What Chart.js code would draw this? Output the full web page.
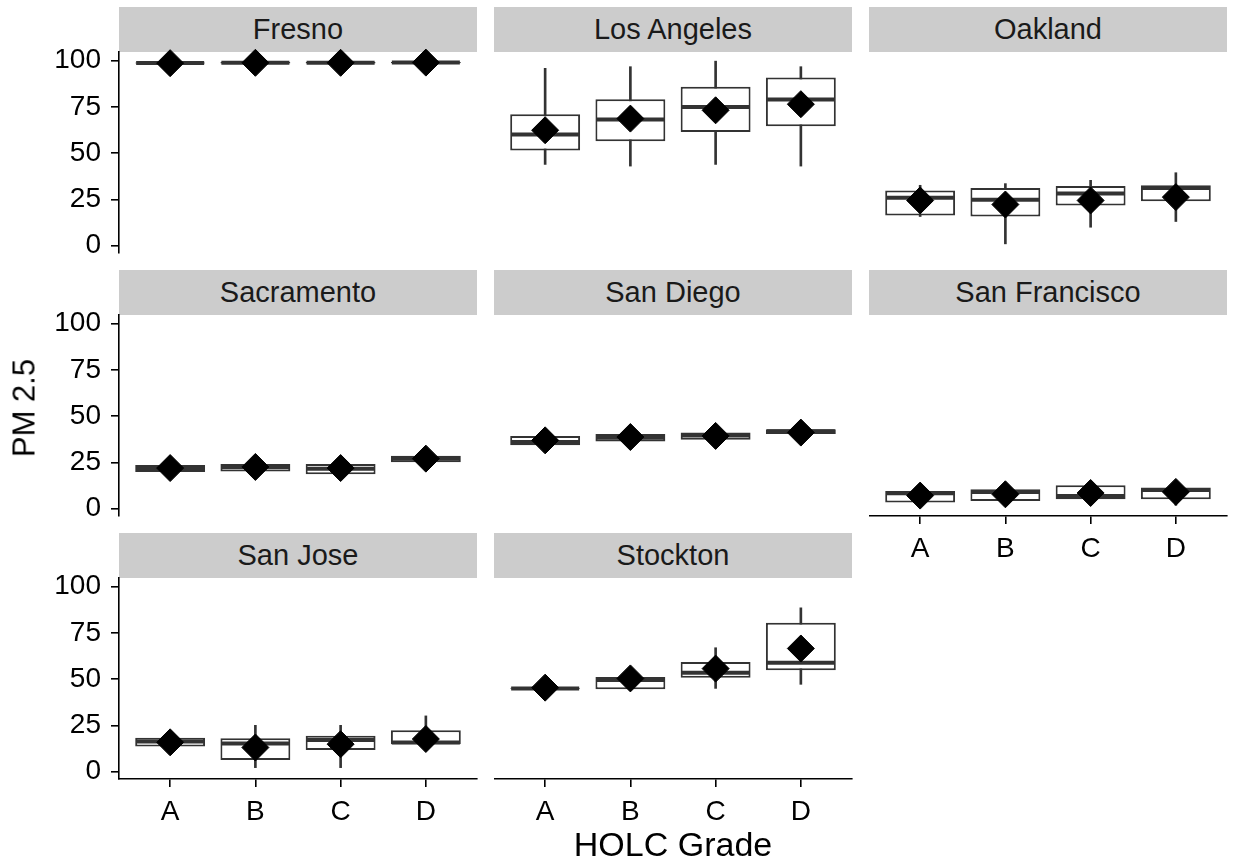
<!DOCTYPE html>
<html>
<head>
<meta charset="utf-8">
<script src="https://cdn.jsdelivr.net/npm/chart.js"></script>
<style>
html,body{margin:0;padding:0;background:#fff;width:1233px;height:863px;overflow:hidden;font-family:"Liberation Sans",Arial,Helvetica,sans-serif;}
#wrap{position:relative;width:1233px;height:863px;}
.strip{position:absolute;background:#CCCCCC;color:#1A1A1A;font-size:29px;text-align:center;white-space:nowrap;}
canvas{position:absolute;}
.title{position:absolute;color:#000;white-space:nowrap;line-height:1;}
</style>
</head>
<body>
<div id="wrap"></div>
<script>
// ---------- data ----------
const CITIES = ['Fresno','Los Angeles','Oakland','Sacramento','San Diego','San Francisco','San Jose','Stockton'];
const GRADES = ['A','B','C','D'];
const Y_TICKS = [0, 25, 50, 75, 100];

const WHISKER_LOW = [
  [98.3, 98.2, 98.3, 98.4],
  [43.9, 43.0, 43.9, 43.0],
  [15.7, 0.9, 9.9, 13.0],
  [19.3, 19.6, 18.2, 24.5],
  [33.8, 36.0, 36.9, 40.0],
  [3.0, 3.8, 4.8, 1.8],
  [13.3, 2.1, 2.1, 14.5],
  [44.6, 44.3, 45.0, 47.2]
];
const Q1 = [
  [98.5, 98.5, 98.5, 98.6],
  [51.5, 56.4, 61.5, 64.6],
  [16.3, 15.7, 21.7, 23.9],
  [19.8, 20.0, 18.6, 25.0],
  [34.2, 36.3, 37.2, 40.3],
  [3.3, 4.1, 5.0, 5.0],
  [13.6, 6.3, 11.7, 14.8],
  [44.8, 44.5, 50.8, 54.8]
];
const MEDIAN = [
  [98.8, 98.9, 98.9, 99.0],
  [60.1, 68.2, 75.0, 79.0],
  [25.9, 24.8, 28.1, 31.1],
  [21.8, 22.4, 21.5, 27.0],
  [36.0, 38.3, 39.5, 41.8],
  [8.3, 9.0, 6.8, 10.0],
  [16.2, 15.1, 17.1, 15.7],
  [45.0, 49.5, 53.5, 58.9]
];
const Q3 = [
  [99.1, 99.3, 99.3, 99.4],
  [71.1, 79.2, 85.9, 91.0],
  [29.8, 31.1, 32.2, 32.6],
  [23.6, 24.1, 24.1, 28.5],
  [39.2, 40.3, 41.2, 42.9],
  [9.5, 10.4, 12.6, 11.4],
  [18.3, 18.0, 19.3, 22.3],
  [45.3, 51.1, 59.3, 80.5]
];
const WHISKER_HIGH = [
  [99.3, 99.6, 99.6, 99.8],
  [95.9, 96.8, 99.8, 96.8],
  [32.6, 33.5, 35.3, 39.4],
  [24.0, 24.4, 24.4, 28.9],
  [39.6, 40.5, 41.4, 43.2],
  [9.8, 10.8, 13.0, 11.8],
  [18.8, 25.0, 25.0, 30.1],
  [45.5, 51.4, 67.0, 88.6]
];
const MEAN = [
  [98.7, 98.9, 98.9, 99.0],
  [62.4, 68.7, 73.2, 76.5],
  [24.4, 22.2, 24.4, 26.2],
  [21.9, 22.5, 21.9, 27.0],
  [36.9, 38.7, 39.3, 41.1],
  [7.0, 7.7, 8.4, 9.0],
  [15.8, 13.0, 14.8, 17.6],
  [45.4, 50.4, 55.7, 66.6]
];
const Y_MIN = -4.05, Y_MAX = 104.75;

// ---------- layout ----------
const FONT = '"Liberation Sans", Arial, Helvetica, sans-serif';
const COL_LEFT = [119, 494, 869];
const PANEL_W = 358;
const STRIP_TOP = [7, 270, 533];
const STRIP_H = 45;
const PANEL_H = 201;
const YAX_W = 119;
const XAX_H = 60;
const PAD = 16;
const INK = '#333333';

const wrap = document.getElementById('wrap');

function addDiv(cls, text, style) {
  const d = document.createElement('div');
  d.className = cls;
  d.textContent = text;
  Object.assign(d.style, style);
  wrap.appendChild(d);
  return d;
}

CITIES.forEach((city, k) => {
  const col = k % 3, row = Math.floor(k / 3);
  const showY = col === 0;
  const showX = k >= 5;
  const left = COL_LEFT[col];
  const stripTop = STRIP_TOP[row];
  const panelTop = stripTop + STRIP_H;

  addDiv('strip', city, {
    left: left + 'px', top: stripTop + 'px', width: PANEL_W + 'px',
    height: STRIP_H + 'px', lineHeight: STRIP_H + 'px'
  });

  const cv = document.createElement('canvas');
  const wL = showY ? YAX_W : 0;
  cv.width = wL + PANEL_W + PAD;
  cv.height = PAD + PANEL_H + (showX ? XAX_H : PAD);
  cv.style.left = (left - wL) + 'px';
  cv.style.top = (panelTop - PAD) + 'px';
  wrap.appendChild(cv);

  const pts = arr => GRADES.map((g, i) => ({ x: i + 1, y: arr[k][i] }));
  const rng = (a, b) => GRADES.map((g, i) => ({ x: i + 1, y: [a[k][i], b[k][i]] }));

  const axisCommon = {
    grid: { display: true, drawOnChartArea: false, drawTicks: true, tickLength: 8, color: '#000', lineWidth: 1.6, offset: false },
    border: { display: true, color: '#000', width: 1.6 }
  };

  new Chart(cv, {
    type: 'bar',
    data: {
      datasets: [
        { type: 'bar', label: 'whisker', data: rng(WHISKER_LOW, WHISKER_HIGH),
          backgroundColor: INK, borderWidth: 0, barThickness: 2, grouped: false, order: 3 },
        { type: 'bar', label: 'box', data: rng(Q1, Q3),
          backgroundColor: '#FFFFFF', borderColor: INK, borderWidth: 2, borderSkipped: false,
          grouped: false, categoryPercentage: 1, barPercentage: 0.82, order: 2 },
        { type: 'scatter', label: 'median', data: pts(MEDIAN),
          pointStyle: 'line', pointRadius: 34, pointBorderWidth: 4, pointBorderColor: INK,
          order: 1, clip: false },
        { type: 'scatter', label: 'mean', data: pts(MEAN),
          pointStyle: 'rectRot', pointRadius: 13.5, pointBackgroundColor: '#000', pointBorderColor: '#000',
          pointBorderWidth: 1, order: 0, clip: false }
      ]
    },
    options: {
      responsive: false,
      animation: false,
      events: [],
      layout: { autoPadding: false, padding: { top: PAD, right: PAD, bottom: showX ? 0 : PAD, left: 0 } },
      plugins: { legend: { display: false }, tooltip: { enabled: false } },
      scales: {
        x: Object.assign({}, axisCommon, {
          type: 'linear', min: 0.4, max: 4.6, offset: false, display: showX,
          afterBuildTicks: s => { s.ticks = GRADES.map((g, i) => ({ value: i + 1 })); },
          afterFit: showX ? (s => { s.height = XAX_H; }) : undefined,
          ticks: { callback: (v, i) => GRADES[i], font: { family: FONT, size: 28 }, color: '#000',
                   padding: 8, maxRotation: 0, autoSkip: false, includeBounds: false, stepSize: 1 }
        }),
        y: Object.assign({}, axisCommon, {
          type: 'linear', min: Y_MIN, max: Y_MAX, display: showY,
          afterBuildTicks: s => { s.ticks = Y_TICKS.map(v => ({ value: v })); },
          afterFit: showY ? (s => { s.width = YAX_W; }) : undefined,
          ticks: { font: { family: FONT, size: 28, lineHeight: 0.1 }, color: '#000', padding: 10,
                   includeBounds: false, autoSkip: false }
        })
      }
    }
  });
});

addDiv('title', 'HOLC Grade', { left: '119px', width: '1108px', top: '827px', textAlign: 'center', fontSize: '34px' });
addDiv('title', 'PM 2.5', { left: '24px', top: '408px', fontSize: '31px', transform: 'translate(-50%,-50%) rotate(-90deg)' });
</script>
</body>
</html>
